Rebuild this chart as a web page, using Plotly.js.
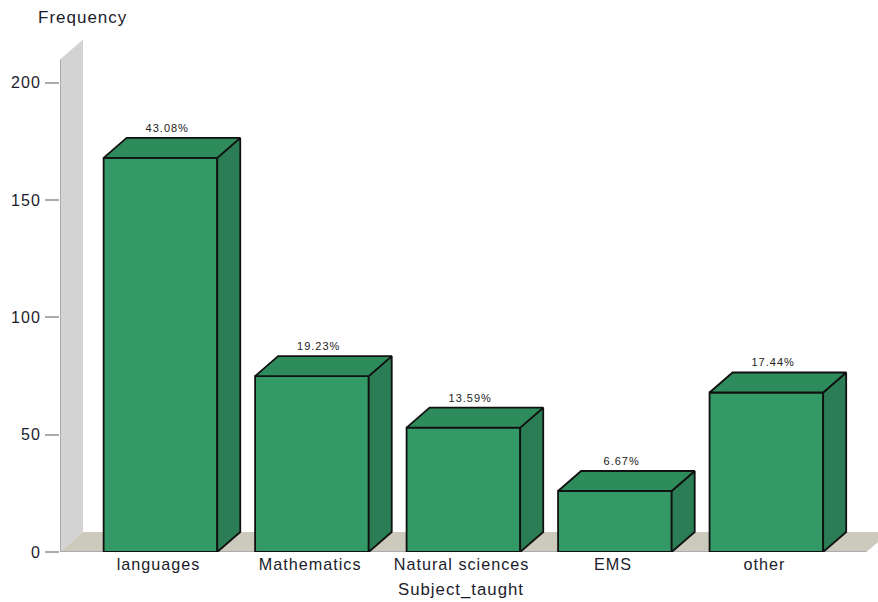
<!DOCTYPE html>
<html><head><meta charset="utf-8">
<script src="https://cdn.plot.ly/plotly-3.0.1.min.js"></script>
<style>
html,body{margin:0;padding:0;background:#fff}
#c{width:878px;height:602px}
svg text{letter-spacing:1px}
</style></head><body><div id="c"></div>
<script>
const categories=["languages","Mathematics","Natural sciences","EMS","other"];
const frequencies=[168,75,53,26,68];
const shares=["43.08%","19.23%","13.59%","6.67%","17.44%"];
const yTicks=[0,50,100,150,200];

const xRange=[-0.663,4.737], yRange=[0,218.7];
const depthX=0.152, depthY=8.53, halfBar=0.375, wallTop=210, axisEndX=4.66;
const ink="#111111", axisGrey="#a9abae", textColor="#1c1c2c";
const font={family:'"Liberation Sans",Arial,sans-serif',color:textColor};

const traces=[{
  type:"bar",x:categories.map((_,i)=>i),y:frequencies,width:2*halfBar,
  marker:{color:"#339966",line:{color:ink,width:1.8}},hoverinfo:"skip",showlegend:false
}];
frequencies.forEach((v,i)=>{
  const l=i-halfBar,r=i+halfBar;
  traces.push({type:"scatter",mode:"lines",fill:"toself",fillcolor:"#2a7d54",
    x:[r,r+depthX,r+depthX,r,r],y:[0,depthY,v+depthY,v,0],
    line:{color:ink,width:1.8},hoverinfo:"skip",showlegend:false});
  traces.push({type:"scatter",mode:"lines",fill:"toself",fillcolor:"#2e8b5c",
    x:[l,l+depthX,r+depthX,r,l],y:[v,v+depthY,v+depthY,v,v],
    line:{color:ink,width:1.8},hoverinfo:"skip",showlegend:false});
});
traces.push({type:"scatter",mode:"text",
  x:categories.map((_,i)=>i+0.045),y:frequencies.map(v=>v+depthY+1.4),
  text:shares,textposition:"top center",textfont:{family:font.family,size:11,color:"#222222"},
  hoverinfo:"skip",showlegend:false});

const shapes=[
 {type:"path",layer:"below",line:{width:0},fillcolor:"#d3d3d3",
  path:`M${xRange[0]},0 L${xRange[0]+depthX},${depthY} L${xRange[0]+depthX},${wallTop+depthY} L${xRange[0]},${wallTop} Z`},
 {type:"path",layer:"below",line:{width:0},fillcolor:"#cccabc",
  path:`M${xRange[0]},0 L${xRange[0]+depthX},${depthY} L${xRange[1]},${depthY} L${xRange[1]},${(axisEndX+depthX-xRange[1])/depthX*depthY} L${axisEndX},0 Z`},
 {type:"line",layer:"below",x0:xRange[0],x1:xRange[0],y0:0,y1:wallTop,line:{color:axisGrey,width:2}},
 {type:"line",layer:"below",x0:xRange[0],x1:axisEndX,y0:0,y1:0,line:{color:axisGrey,width:2}}
];

const layout={
  width:878,height:602,margin:{l:60,r:0,t:39,b:49.5},
  paper_bgcolor:"#fff",plot_bgcolor:"#fff",showlegend:false,font,shapes,
  xaxis:{type:"linear",range:xRange,tickvals:categories.map((_,i)=>i-0.012),ticktext:categories,
    showgrid:false,zeroline:false,showline:false,ticks:"",ticklabelstandoff:1,tickfont:{size:16.2,color:textColor}},
  yaxis:{range:yRange,tickvals:yTicks,showgrid:false,zeroline:false,showline:false,
    ticks:"outside",ticklen:14,tickwidth:2,tickcolor:axisGrey,ticklabelstandoff:1,tickfont:{size:16,color:textColor}},
  annotations:[
   {text:"Frequency",xref:"paper",yref:"paper",x:22/818,y:1+22/513.5,xanchor:"center",yanchor:"middle",showarrow:false,font:{size:17,color:textColor}},
   {text:"Subject_taught",xref:"x",yref:"paper",x:1.987,y:-38/513.5,xanchor:"center",yanchor:"middle",showarrow:false,font:{size:16.8,color:textColor}}
  ]
};
Plotly.newPlot("c",traces,layout,{displayModeBar:false,staticPlot:true});
</script></body></html>
